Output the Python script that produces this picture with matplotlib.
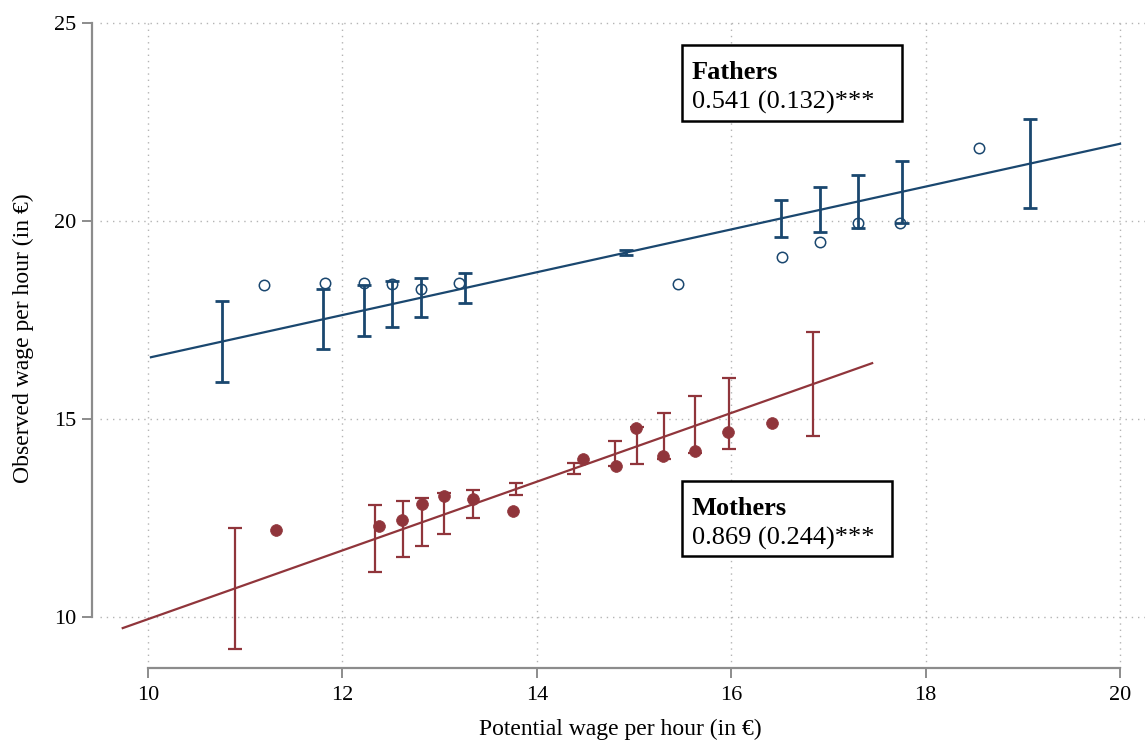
import matplotlib
matplotlib.use("Agg")
import matplotlib.pyplot as plt
from matplotlib.patches import Rectangle

# ---------------- data ----------------
fathers_pts_x = [11.19, 11.82, 12.22, 12.51, 12.81, 13.20, 15.45, 16.52, 16.91, 17.30, 17.74, 18.55]
fathers_pts_y = [18.38, 18.44, 18.43, 18.41, 18.28, 18.44, 18.40, 19.09, 19.47, 19.95, 19.94, 21.84]

fathers_ci_x  = [10.76, 11.80, 12.22, 12.51, 12.81, 13.26, 14.92, 16.51, 16.91, 17.30, 17.76, 19.07]
fathers_ci_lo = [15.93, 16.77, 17.10, 17.33, 17.57, 17.93, 19.14, 19.60, 19.71, 19.82, 19.95, 20.32]
fathers_ci_hi = [17.97, 18.28, 18.38, 18.48, 18.56, 18.68, 19.26, 20.52, 20.85, 21.17, 21.52, 22.58]

fathers_fit_x = [10.03, 20.0]
fathers_fit_y = [16.56, 21.95]

mothers_pts_x = [11.32, 12.38, 12.61, 12.82, 13.05, 13.34, 13.75, 14.48, 14.81, 15.02, 15.30, 15.63, 15.97, 16.42]
mothers_pts_y = [12.20, 12.29, 12.44, 12.86, 13.06, 12.97, 12.68, 14.00, 13.82, 14.78, 14.07, 14.19, 14.67, 14.91]

mothers_ci_x  = [10.89, 12.34, 12.62, 12.82, 13.05, 13.34, 13.79, 14.38, 14.80, 15.03, 15.31, 15.63, 15.98, 16.84]
mothers_ci_lo = [9.18, 11.13, 11.52, 11.79, 12.09, 12.50, 13.09, 13.62, 13.81, 13.87, 14.00, 14.13, 14.24, 14.58]
mothers_ci_hi = [12.25, 12.82, 12.94, 13.01, 13.13, 13.21, 13.39, 13.88, 14.45, 14.79, 15.14, 15.57, 16.04, 17.20]

mothers_fit_x = [9.74, 17.45]
mothers_fit_y = [9.72, 16.41]

x_ticks = [10, 12, 14, 16, 18, 20]
y_ticks = [10, 15, 20, 25]

fathers_label = "Fathers"
fathers_coef = "0.541 (0.132)***"
mothers_label = "Mothers"
mothers_coef = "0.869 (0.244)***"

x_title = "Potential wage per hour (in €)"
y_title = "Observed wage per hour (in €)"

# ---------------- style ----------------
NAVY = "#1a476f"
MAROON = "#90353b"
GRID = "#b4b4b4"
AXC = "#8c8c8c"
FONT = "Liberation Serif"
plt.rcParams["font.family"] = [FONT, "DejaVu Serif"]

W, H = 1145, 742
fig = plt.figure(figsize=(W / 100, H / 100), dpi=100)
x0, x1 = 9.42, 20.26
y0, y1 = 8.70, 25.10
left_px = 148 - (10 - x0) * 97.2
right_px = 1120 + (x1 - 20) * 97.2
bot_px = 617 + (10 - y0) * 39.6
top_px = 23 - (y1 - 25) * 39.6
ax_w = right_px - left_px
ax_h = bot_px - top_px
ax = fig.add_axes([left_px / W, 1 - bot_px / H, ax_w / W, ax_h / H])
ax.set_xlim(x0, x1)
ax.set_ylim(y0, y1)

# grid
for xv in x_ticks:
    ax.axvline(xv, color=GRID, lw=1.0, ls=(0, (1, 3.5)), zorder=0)
for yv in y_ticks:
    ax.axhline(yv, xmin=0.008, color=GRID, lw=1.0, ls=(0, (1, 3.5)), zorder=0)

# fathers
ax.plot(fathers_fit_x, fathers_fit_y, color=NAVY, lw=1.6, zorder=2)
f_mid = [(a + b) / 2 for a, b in zip(fathers_ci_lo, fathers_ci_hi)]
f_half = [(b - a) / 2 for a, b in zip(fathers_ci_lo, fathers_ci_hi)]
ax.errorbar(fathers_ci_x, f_mid, yerr=[f_half, f_half],
            fmt="none", ecolor=NAVY, elinewidth=2.0, capsize=5, capthick=2.0, zorder=3)
ax.plot(fathers_pts_x, fathers_pts_y, ls="none", marker="o", ms=7.5, mfc="none",
        mec=NAVY, mew=1.1, zorder=4)

# mothers
ax.plot(mothers_fit_x, mothers_fit_y, color=MAROON, lw=1.6, zorder=2)
m_mid = [(a + b) / 2 for a, b in zip(mothers_ci_lo, mothers_ci_hi)]
m_half = [(b - a) / 2 for a, b in zip(mothers_ci_lo, mothers_ci_hi)]
ax.errorbar(mothers_ci_x, m_mid, yerr=[m_half, m_half],
            fmt="none", ecolor=MAROON, elinewidth=1.6, capsize=5, capthick=1.6, zorder=3)
ax.plot(mothers_pts_x, mothers_pts_y, ls="none", marker="o", ms=8.5, mfc=MAROON,
        mec=MAROON, mew=0.5, zorder=4)

# spines
for s in ["top", "right"]:
    ax.spines[s].set_visible(False)
ax.spines["left"].set_bounds(10, 25)
ax.spines["bottom"].set_bounds(10, 20)
for s in ["left", "bottom"]:
    ax.spines[s].set_color(AXC)
    ax.spines[s].set_linewidth(1.6)
ax.set_xticks(x_ticks)
ax.set_yticks(y_ticks)
ax.tick_params(axis="both", colors=AXC, labelcolor="black", length=7.5, width=1.4,
               labelsize=16, direction="out")
ax.tick_params(axis="x", pad=5)
ax.tick_params(axis="y", pad=3.6)
ax.set_xlabel(x_title, fontsize=17)
ax.set_ylabel(y_title, fontsize=17)
ax.xaxis.set_label_coords((620 - left_px) / ax_w, -(719 - bot_px) / ax_h)
ax.yaxis.set_label_coords((34 - left_px) / ax_w, (bot_px - 338) / ax_h)

# annotation boxes (pixel layout)
def box(l, t, r, b, title, coef):
    fig.patches.append(Rectangle((l / W, 1 - b / H), (r - l) / W, (b - t) / H,
                                 transform=fig.transFigure, fill=True, fc="white",
                                 ec="black", lw=1.8, zorder=5))
    fig.text((l + 10) / W, 1 - (t + 34) / H, title, fontsize=19, fontweight="bold",
             ha="left", va="baseline", zorder=6)
    fig.text((l + 10) / W, 1 - (t + 64) / H, coef, fontsize=19,
             ha="left", va="baseline", zorder=6)

box(682, 45, 902, 121, fathers_label, fathers_coef)
box(682, 481, 892, 556, mothers_label, mothers_coef)

fig.savefig("out.png", dpi=100)
